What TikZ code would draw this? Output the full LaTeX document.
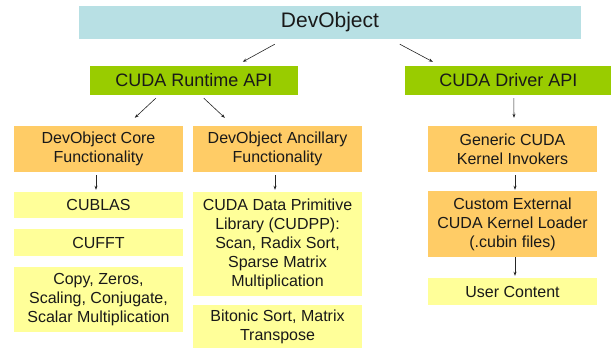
\documentclass[tikz,border=0pt]{standalone}
\usepackage{fontspec}
\setmainfont{Liberation Sans}
\usetikzlibrary{arrows.meta}
\definecolor{devblue}{HTML}{B8E0E4}
\definecolor{apigreen}{HTML}{99CC00}
\definecolor{funcorange}{HTML}{FFCC66}
\definecolor{libyellow}{HTML}{FFFF99}
\tikzset{
  box/.style={inner sep=0pt, align=center, text=black!90, font=\fontsize{16}{19}\selectfont},
  devbox/.style={box, fill=devblue, minimum width=502pt, minimum height=33pt, font=\fontsize{21}{24}\selectfont},
  apibox/.style={box, fill=apigreen, minimum height=29pt, font=\fontsize{18}{21}\selectfont},
  funcbox/.style={box, fill=funcorange, minimum width=169pt},
  libbox/.style={box, fill=libyellow, minimum width=169pt},
  arr/.style={-{Stealth[length=4pt,width=3pt]}, line width=0.6pt, black!85}
}
\begin{document}
\begin{tikzpicture}[x=1pt,y=-1pt]
\useasboundingbox (0,0) rectangle (611,350);
\clip (0,0) rectangle (611,350);
\node[devbox] (dev) at (330,22.5) {DevObject};
\node[apibox, minimum width=208pt] (rt) at (194,80.5) {CUDA Runtime API};
\node[apibox, minimum width=207pt] (drv) at (508.5,80.5) {CUDA Driver API};
\node[funcbox, minimum height=46pt] (core) at (98.5,149) {DevObject Core\\Functionality};
\node[funcbox, minimum height=46pt] (anc) at (277.5,149) {DevObject Ancillary\\Functionality};
\node[funcbox, minimum height=46pt] (gen) at (512.5,149) {Generic CUDA\\Kernel Invokers};
\node[libbox, minimum height=26pt] (cublas) at (98.5,205) {CUBLAS};
\node[libbox, minimum height=27pt] (cufft) at (98.5,242.5) {CUFFT};
\node[libbox, minimum height=65pt] (copy) at (98.5,299.5) {Copy, Zeros,\\Scaling, Conjugate,\\Scalar Multiplication};
\node[libbox, minimum height=104pt] (cudpp) at (277.5,244) {CUDA Data Primitive\\Library (CUDPP):\\Scan, Radix Sort,\\Sparse Matrix\\Multiplication};
\node[libbox, minimum height=43pt] (bitonic) at (277.5,326.5) {Bitonic Sort, Matrix\\Transpose};
\node[funcbox, minimum height=66pt] (custom) at (512.5,224) {Custom External\\CUDA Kernel Loader\\(.cubin files)};
\node[libbox, minimum height=27pt] (user) at (512.5,291.5) {User Content};
\draw[arr] ([xshift=196pt,yshift=-5pt]dev.south west) -- ([xshift=153pt,yshift=4pt]rt.north west);
\draw[arr] ([xshift=321pt,yshift=-5pt]dev.south west) -- ([xshift=28pt,yshift=4pt]drv.north west);
\draw[arr] ([xshift=66pt,yshift=-3pt]rt.south west) -- ([xshift=121pt,yshift=8pt]core.north west);
\draw[arr] ([xshift=114pt,yshift=-3pt]rt.south west) -- ([xshift=32pt,yshift=8pt]anc.north west);
\draw[arr] ([xshift=109pt,yshift=-3pt]drv.south west) -- ([xshift=1.5pt,yshift=8pt]gen.north);
\draw[arr] ([xshift=-2.5pt,yshift=-3pt]core.south) -- ([xshift=-2.5pt,yshift=2pt]cublas.north);
\draw[arr] ([xshift=-2.5pt,yshift=-3pt]anc.south) -- ([xshift=-2.5pt,yshift=2pt]cudpp.north);
\draw[arr] ([xshift=2.5pt,yshift=-3pt]gen.south) -- ([xshift=2.5pt,yshift=1pt]custom.north);
\draw[arr] ([xshift=2.5pt]custom.south) -- ([xshift=2.5pt,yshift=2pt]user.north);
\end{tikzpicture}
\end{document}
